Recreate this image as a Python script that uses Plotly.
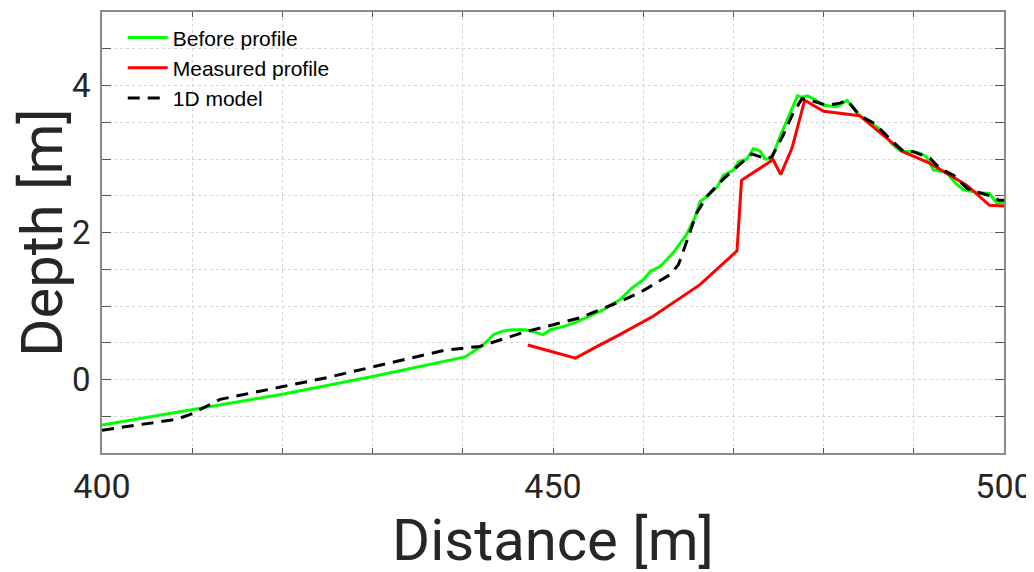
import plotly.graph_objects as go

# Before profile (green)
before_x = [400, 410, 420, 430, 437.5, 440.26, 441.2, 442.3, 443.4, 444.3, 445.4, 446.9, 447.7, 448.9,
            449.7, 451.2, 452.6, 454.1, 455.6, 457.4, 458.7, 460.0, 460.8, 461.9, 463.3, 464.8, 465.75,
            466.3, 467.05, 468.2, 468.9, 470.0, 470.55, 471.5, 472.2, 472.96, 473.5, 474.25, 475.2,
            476.1, 477.1, 477.6, 478.2, 479.05, 480.0, 481.5, 482.6, 484.0, 485.1, 486.2, 487.55,
            488.5, 489.95, 490.7, 491.4, 492.2, 493.65, 494.6, 495.5, 496.6, 497.3, 498.4, 499.2, 500]
before_y = [-0.62, -0.41, -0.2, 0.04, 0.235, 0.307, 0.384, 0.475, 0.61, 0.655, 0.678, 0.678, 0.655, 0.61,
            0.678, 0.723, 0.78, 0.86, 0.95, 1.085, 1.24, 1.356, 1.47, 1.54, 1.72, 1.97, 2.21,
            2.42, 2.49, 2.62, 2.78, 2.85, 2.96, 3.0, 3.14, 3.11, 3.0, 3.0, 3.32,
            3.57, 3.86, 3.84, 3.86, 3.81, 3.73, 3.71, 3.80, 3.59, 3.50, 3.41, 3.21,
            3.11, 3.10, 3.08, 3.03, 2.85, 2.82, 2.67, 2.58, 2.55, 2.54, 2.53, 2.40, 2.40]

# Measured profile (red)
measured_x = [447.2, 452.5, 454.9, 457.4, 461.1, 466.3, 470.4, 470.9, 474.4, 475.25, 476.5, 477.9,
              480.0, 484.0, 488.8, 491.8, 495.9, 498.4, 500]
measured_y = [0.47, 0.29, 0.45, 0.61, 0.86, 1.29, 1.75, 2.71, 2.99, 2.79, 3.15, 3.80,
              3.65, 3.59, 3.10, 2.94, 2.64, 2.37, 2.36]

# 1D model (black dashed)
model_x = [400, 408.3, 409.8, 411.3, 413.1, 424.9, 438.05, 441.9, 447.1, 448.6, 453.0, 457.4, 459.6,
           462.9, 463.9, 465.0, 465.9, 467.05, 468.9, 470.0, 472.05, 473.7, 474.25, 475.5, 476.6,
           477.6, 478.5, 480.35, 481.8, 482.6, 484.0, 485.7, 487.55, 488.8, 489.95, 491.8, 492.9,
           494.4, 495.9, 497.3, 498.8, 499.4, 500]
model_y = [-0.69, -0.54, -0.475, -0.385, -0.27, 0.025, 0.40, 0.45, 0.655, 0.70, 0.84, 1.06, 1.18,
           1.42, 1.56, 1.94, 2.26, 2.49, 2.73, 2.85, 3.07, 3.0, 3.03, 3.32, 3.62,
           3.82, 3.80, 3.73, 3.76, 3.80, 3.59, 3.48, 3.25, 3.11, 3.10, 3.01, 2.87,
           2.78, 2.60, 2.54, 2.49, 2.44, 2.44]

x_ticks = list(range(400, 501, 10))
x_labels = ["400", "", "", "", "", "450", "", "", "", "", "500"]
y_ticks = [-1, -0.5, 0, 0.5, 1, 1.5, 2, 2.5, 3, 3.5, 4, 4.5, 5]
y_labels = ["", "", "0", "", "", "", "2", "", "", "", "4", "", ""]

fig = go.Figure()
fig.add_trace(go.Scatter(x=before_x, y=before_y, mode="lines", name="Before profile",
                         line=dict(color="#00ff00", width=3)))
fig.add_trace(go.Scatter(x=measured_x, y=measured_y, mode="lines", name="Measured profile",
                         line=dict(color="#ff0000", width=3)))
fig.add_trace(go.Scatter(x=model_x, y=model_y, mode="lines", name="1D model",
                         line=dict(color="#000000", width=3, dash="12px,8px")))

axis_common = dict(showline=True, linecolor="#8a8a8a", linewidth=1.5, mirror="ticks",
                   ticks="inside", tickcolor="#555555", showgrid=True, gridcolor="#d4d4d4",
                   griddash="dot", gridwidth=1, zeroline=False, automargin=False)

fig.update_layout(
    width=1034, height=572,
    margin=dict(l=94, r=38, t=4, b=127),
    paper_bgcolor="white", plot_bgcolor="white",
    font=dict(family="Roboto", color="#262626"),
    showlegend=True,
    legend=dict(x=0.023, y=0.988, xanchor="left", yanchor="top", bgcolor="rgba(0,0,0,0)",
                font=dict(family="Liberation Sans", size=21, color="#000000"),
                tracegroupgap=0, itemwidth=40),
    xaxis=dict(range=[400, 500], tickvals=x_ticks, ticktext=x_labels, ticklen=5,
               tickfont=dict(size=34, color="#262626"), ticklabelstandoff=2,
               title=dict(text="Distance [m]", font=dict(size=58, color="#262626"), standoff=2),
               **axis_common),
    yaxis=dict(range=[-1, 5], tickvals=y_ticks, ticktext=y_labels, ticklen=9,
               tickfont=dict(size=33, color="#262626"), ticklabelstandoff=3,
               title=dict(text="Depth [m]", font=dict(size=58, color="#262626"), standoff=2),
               **axis_common),
)

fig.write_html("out.html")
